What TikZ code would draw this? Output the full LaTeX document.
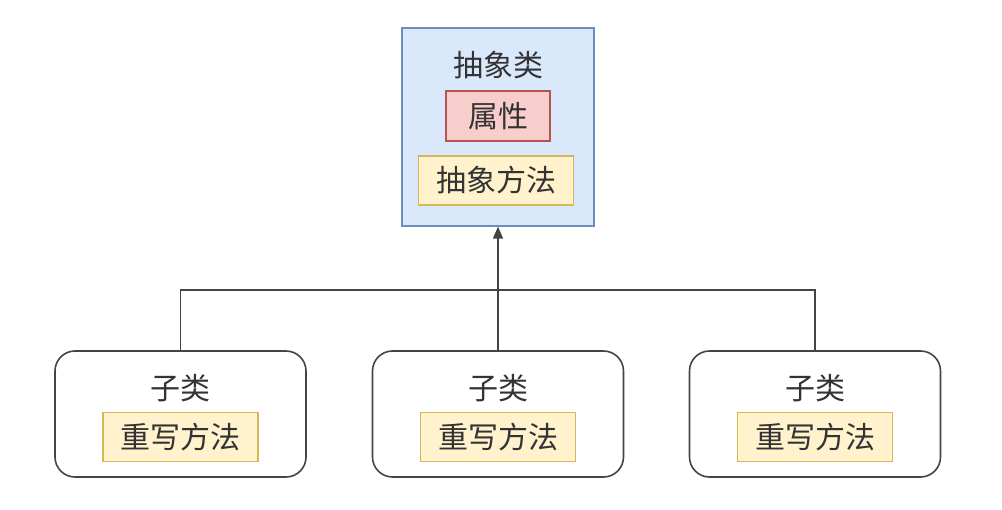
\documentclass[tikz,border=0pt]{standalone}
\usepackage{fontspec}
\setmainfont{Noto Sans CJK SC}
\usetikzlibrary{arrows.meta}
\definecolor{blueF}{HTML}{DAE8FC}
\definecolor{blueD}{HTML}{6C8EBF}
\definecolor{redF}{HTML}{F8CECC}
\definecolor{redD}{HTML}{B85450}
\definecolor{yelF}{HTML}{FFF2CC}
\definecolor{yelD}{HTML}{D6B656}
\definecolor{txt}{HTML}{333333}
\definecolor{edge}{HTML}{444444}
\tikzset{
  lbl/.style={font=\fontsize{30}{34}\selectfont, text=txt, inner sep=0pt},
  field/.style={draw=redD, fill=redF, line width=1.2pt, minimum width=104pt, minimum height=50pt, inner sep=0pt, font=\fontsize{30}{34}\selectfont, text=txt},
  meth/.style={draw=yelD, fill=yelF, line width=1.2pt, minimum width=155pt, minimum height=49pt, inner sep=0pt, font=\fontsize{30}{34}\selectfont, text=txt},
  absbox/.style={draw=blueD, fill=blueF, line width=1.2pt, minimum width=192pt, minimum height=198pt, inner sep=0pt},
  childbox/.style={draw=edge, fill=white, line width=1.6pt, rounded corners=20pt, minimum width=251pt, minimum height=126pt, inner sep=0pt},
  conn/.style={draw=edge, line width=1.6pt},
}
\begin{document}
\begin{tikzpicture}[x=1pt,y=-1pt]
\useasboundingbox (0,0) rectangle (1002,510);
\node[absbox] (abs) at (498,127) {};
\node[lbl] (absname) at (498,65) {抽象类};
\node[field] (attr) at (498,116) {属性};
\node[meth] (am) at (496,180.5) {抽象方法};

\node[childbox] (c1) at (180.5,414) {};
\node[childbox] (c2) at (498,414) {};
\node[childbox] (c3) at (815,414) {};
\foreach \i/\x in {1/180.5,2/498,3/815}{
  \node[lbl] (n\i) at (\x,388) {子类};
  \node[meth] (m\i) at (\x,437) {重写方法};
}
\coordinate (j1) at (180.5,290);
\coordinate (j3) at (815,290);
\draw[conn] (c1.north) -- (j1) -- (j3) -- (c3.north);
\draw[conn, -{Triangle[length=12pt,width=10pt]}] (c2.north) -- (abs.south);
\end{tikzpicture}
\end{document}
